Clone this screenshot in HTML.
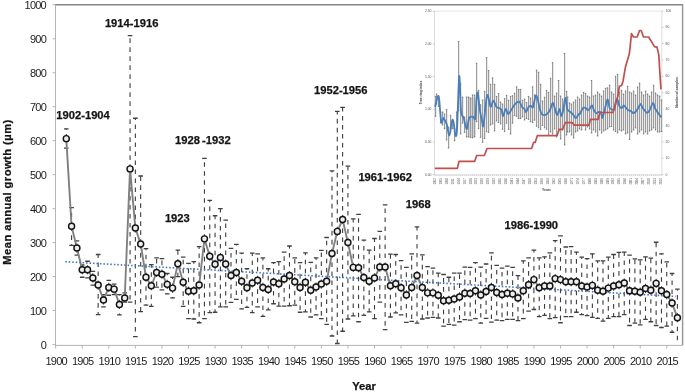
<!DOCTYPE html>
<html><head><meta charset="utf-8"><style>
html,body{margin:0;padding:0;background:#fff;width:685px;height:392px;overflow:hidden}
svg{display:block;will-change:transform}
text{font-family:"Liberation Sans",sans-serif;fill:#1e1e1e}
.tk{font-size:11px;letter-spacing:-0.75px;fill:#1c1c1c}
.an{font-size:11.2px;font-weight:bold;fill:#141414;stroke:#141414;stroke-width:0.25px}
.it{font-size:3.4px;fill:#555}
.iy{font-size:2.9px;fill:#555}
.ib{font-size:3.3px;font-weight:bold;fill:#444}
</style></head><body>
<svg width="685" height="392" viewBox="0 0 685 392">
<rect width="685" height="392" fill="#fff"/>
<line x1="55" y1="4.8" x2="682.6" y2="4.8" stroke="#858585" stroke-width="1.5"/>
<line x1="682.6" y1="4.1" x2="682.6" y2="345.4" stroke="#9a9a9a" stroke-width="1.5"/>
<line x1="55.5" y1="4.8" x2="55.5" y2="345.9" stroke="#b5b5b5" stroke-width="1"/>
<line x1="55" y1="345.4" x2="682" y2="345.4" stroke="#b5b5b5" stroke-width="1"/>
<line x1="52.6" y1="344.5" x2="55.5" y2="344.5" stroke="#b5b5b5" stroke-width="1"/>
<line x1="52.6" y1="310.53" x2="55.5" y2="310.53" stroke="#b5b5b5" stroke-width="1"/>
<line x1="52.6" y1="276.56" x2="55.5" y2="276.56" stroke="#b5b5b5" stroke-width="1"/>
<line x1="52.6" y1="242.59" x2="55.5" y2="242.59" stroke="#b5b5b5" stroke-width="1"/>
<line x1="52.6" y1="208.62" x2="55.5" y2="208.62" stroke="#b5b5b5" stroke-width="1"/>
<line x1="52.6" y1="174.65" x2="55.5" y2="174.65" stroke="#b5b5b5" stroke-width="1"/>
<line x1="52.6" y1="140.68" x2="55.5" y2="140.68" stroke="#b5b5b5" stroke-width="1"/>
<line x1="52.6" y1="106.71" x2="55.5" y2="106.71" stroke="#b5b5b5" stroke-width="1"/>
<line x1="52.6" y1="72.74" x2="55.5" y2="72.74" stroke="#b5b5b5" stroke-width="1"/>
<line x1="52.6" y1="38.77" x2="55.5" y2="38.77" stroke="#b5b5b5" stroke-width="1"/>
<line x1="52.6" y1="4.8" x2="55.5" y2="4.8" stroke="#b5b5b5" stroke-width="1"/>
<line x1="55.65" y1="345.4" x2="55.65" y2="348.6" stroke="#b5b5b5" stroke-width="1"/>
<line x1="82.22" y1="345.4" x2="82.22" y2="348.6" stroke="#b5b5b5" stroke-width="1"/>
<line x1="108.79" y1="345.4" x2="108.79" y2="348.6" stroke="#b5b5b5" stroke-width="1"/>
<line x1="135.36" y1="345.4" x2="135.36" y2="348.6" stroke="#b5b5b5" stroke-width="1"/>
<line x1="161.93" y1="345.4" x2="161.93" y2="348.6" stroke="#b5b5b5" stroke-width="1"/>
<line x1="188.5" y1="345.4" x2="188.5" y2="348.6" stroke="#b5b5b5" stroke-width="1"/>
<line x1="215.07" y1="345.4" x2="215.07" y2="348.6" stroke="#b5b5b5" stroke-width="1"/>
<line x1="241.64" y1="345.4" x2="241.64" y2="348.6" stroke="#b5b5b5" stroke-width="1"/>
<line x1="268.21" y1="345.4" x2="268.21" y2="348.6" stroke="#b5b5b5" stroke-width="1"/>
<line x1="294.78" y1="345.4" x2="294.78" y2="348.6" stroke="#b5b5b5" stroke-width="1"/>
<line x1="321.35" y1="345.4" x2="321.35" y2="348.6" stroke="#b5b5b5" stroke-width="1"/>
<line x1="347.92" y1="345.4" x2="347.92" y2="348.6" stroke="#b5b5b5" stroke-width="1"/>
<line x1="374.49" y1="345.4" x2="374.49" y2="348.6" stroke="#b5b5b5" stroke-width="1"/>
<line x1="401.06" y1="345.4" x2="401.06" y2="348.6" stroke="#b5b5b5" stroke-width="1"/>
<line x1="427.63" y1="345.4" x2="427.63" y2="348.6" stroke="#b5b5b5" stroke-width="1"/>
<line x1="454.2" y1="345.4" x2="454.2" y2="348.6" stroke="#b5b5b5" stroke-width="1"/>
<line x1="480.77" y1="345.4" x2="480.77" y2="348.6" stroke="#b5b5b5" stroke-width="1"/>
<line x1="507.34" y1="345.4" x2="507.34" y2="348.6" stroke="#b5b5b5" stroke-width="1"/>
<line x1="533.91" y1="345.4" x2="533.91" y2="348.6" stroke="#b5b5b5" stroke-width="1"/>
<line x1="560.48" y1="345.4" x2="560.48" y2="348.6" stroke="#b5b5b5" stroke-width="1"/>
<line x1="587.05" y1="345.4" x2="587.05" y2="348.6" stroke="#b5b5b5" stroke-width="1"/>
<line x1="613.62" y1="345.4" x2="613.62" y2="348.6" stroke="#b5b5b5" stroke-width="1"/>
<line x1="640.19" y1="345.4" x2="640.19" y2="348.6" stroke="#b5b5b5" stroke-width="1"/>
<line x1="666.76" y1="345.4" x2="666.76" y2="348.6" stroke="#b5b5b5" stroke-width="1"/>
<g stroke="#3c3c3c" stroke-width="1.1" stroke-dasharray="4.6 4.4" fill="none"><path d="M66.28 138.64V128.79M66.28 138.64V148.15"/><path d="M71.59 226.28V207.6M71.59 226.28V245.31"/><path d="M76.91 248.03V240.89M76.91 248.03V255.16"/><path d="M82.22 269.77V265.01M82.22 269.77V277.24"/><path d="M87.53 269.77V261.27M87.53 269.77V277.92"/><path d="M92.85 277.92V271.46M92.85 277.92V285.05"/><path d="M98.16 285.05V254.48M98.16 285.05V314.61"/><path d="M103.48 300V294.56M103.48 300V306.79"/><path d="M108.79 287.43V280.3M108.79 287.43V295.24"/><path d="M114.1 289.13V284.03M114.1 289.13V294.56"/><path d="M119.42 304.42V294.56M119.42 304.42V314.95"/><path d="M124.73 297.96V292.87M124.73 297.96V302.04"/><path d="M130.05 168.88V35.71M130.05 168.88V302.04"/><path d="M135.36 227.98V118.26M135.36 227.98V336.69"/><path d="M140.67 243.95V176.01M140.67 243.95V311.55"/><path d="M145.99 277.24V248.7M145.99 277.24V305.09"/><path d="M151.3 285.73V264.67M151.3 285.73V306.45"/><path d="M156.62 272.48V257.88M156.62 272.48V287.09"/><path d="M161.93 274.18V258.56M161.93 274.18V289.81"/><path d="M167.24 284.37V273.5M167.24 284.37V293.88"/><path d="M172.56 288.11V277.24M172.56 288.11V297.96"/><path d="M177.87 263.65V250.06M177.87 263.65V276.56"/><path d="M183.19 282.33V257.2M183.19 282.33V306.45"/><path d="M188.5 291.17V263.31M188.5 291.17V318.68"/><path d="M193.81 290.83V261.61M193.81 290.83V319.02"/><path d="M199.13 285.05V246.67M199.13 285.05V322.76"/><path d="M204.44 238.85V158.34M204.44 238.85V318.68"/><path d="M209.76 256.18V200.47M209.76 256.18V312.57"/><path d="M215.07 264.33V215.75M215.07 264.33V312.23"/><path d="M220.38 257.54V208.62M220.38 257.54V306.79"/><path d="M225.7 263.99V220.17M225.7 263.99V306.79"/><path d="M231.01 275.54V248.36M231.01 275.54V302.38"/><path d="M236.33 272.48V244.29M236.33 272.48V299.32"/><path d="M241.64 281.32V253.12M241.64 281.32V308.83"/><path d="M246.95 287.77V268.75M246.95 287.77V307.47"/><path d="M252.27 283.01V253.12M252.27 283.01V312.57"/><path d="M257.58 280.3V253.8M257.58 280.3V306.79"/><path d="M262.9 287.43V257.88M262.9 287.43V316.3"/><path d="M268.21 289.47V268.75M268.21 289.47V309.85"/><path d="M273.52 282V262.63M273.52 282V303.74"/><path d="M278.84 283.69V261.61M278.84 283.69V306.11"/><path d="M284.15 278.94V252.1M284.15 278.94V306.11"/><path d="M289.47 275.54V245.99M289.47 275.54V305.77"/><path d="M294.78 281.66V257.88M294.78 281.66V305.09"/><path d="M300.09 287.43V262.63M300.09 287.43V312.23"/><path d="M305.41 282.33V252.78M305.41 282.33V311.89"/><path d="M310.72 290.15V262.29M310.72 290.15V316.98"/><path d="M316.04 287.09V257.88M316.04 287.09V314.95"/><path d="M321.35 284.03V250.4M321.35 284.03V318.68"/><path d="M326.66 281.32V237.49M326.66 281.32V324.46"/><path d="M331.98 253.46V170.91M331.98 253.46V336.01"/><path d="M337.29 231.38V111.47M337.29 231.38V343.48"/><path d="M342.61 219.49V107.39M342.61 219.49V331.25"/><path d="M347.92 242.59V166.16M347.92 242.59V319.02"/><path d="M353.23 267.39V218.81M353.23 267.39V315.97"/><path d="M358.55 267.73V214.39M358.55 267.73V321.74"/><path d="M363.86 277.58V240.21M363.86 277.58V315.29"/><path d="M369.18 281.32V250.06M369.18 281.32V311.89"/><path d="M374.49 277.92V238.51M374.49 277.92V318.68"/><path d="M379.8 267.05V231.38M379.8 267.05V302.04"/><path d="M385.12 267.05V204.88M385.12 267.05V329.55"/><path d="M390.43 285.73V254.14M390.43 285.73V316.98"/><path d="M395.75 283.69V254.48M395.75 283.69V312.91"/><path d="M401.06 287.77V260.59M401.06 287.77V314.95"/><path d="M406.37 294.9V267.39M406.37 294.9V322.42"/><path d="M411.69 287.43V253.8M411.69 287.43V321.4"/><path d="M417 275.54V226.96M417 275.54V323.1"/><path d="M422.32 287.43V254.82M422.32 287.43V319.02"/><path d="M427.63 292.87V266.71M427.63 292.87V318"/><path d="M432.94 292.87V268.07M432.94 292.87V317.32"/><path d="M438.26 295.24V273.16M438.26 295.24V318"/><path d="M443.57 300.68V274.52M443.57 300.68V326.16"/><path d="M448.89 300.34V277.24M448.89 300.34V324.46"/><path d="M454.2 298.98V273.16M454.2 298.98V325.14"/><path d="M459.51 296.94V273.16M459.51 296.94V321.74"/><path d="M464.83 293.21V267.05M464.83 293.21V319.7"/><path d="M470.14 293.55V267.39M470.14 293.55V320.04"/><path d="M475.46 290.83V262.63M475.46 290.83V318.68"/><path d="M480.77 294.9V267.05M480.77 294.9V323.1"/><path d="M486.08 291.51V263.99M486.08 291.51V318.34"/><path d="M491.4 287.43V252.78M491.4 287.43V322.08"/><path d="M496.71 292.53V265.35M496.71 292.53V320.04"/><path d="M502.03 294.56V268.07M502.03 294.56V320.72"/><path d="M507.34 293.21V266.03M507.34 293.21V319.36"/><path d="M512.65 293.88V267.39M512.65 293.88V319.36"/><path d="M517.97 297.96V275.54M517.97 297.96V320.72"/><path d="M523.28 290.83V260.93M523.28 290.83V318.68"/><path d="M528.6 284.71V257.88M528.6 284.71V311.21"/><path d="M533.91 279.62V250.06M533.91 279.62V309.51"/><path d="M539.22 287.77V257.88M539.22 287.77V316.64"/><path d="M544.54 286.07V256.86M544.54 286.07V315.29"/><path d="M549.85 286.07V252.78M549.85 286.07V318.68"/><path d="M555.17 278.6V240.55M555.17 278.6V317.66"/><path d="M560.48 279.62V235.8M560.48 279.62V322.76"/><path d="M565.79 281.66V247.01M565.79 281.66V316.64"/><path d="M571.11 281.66V246.67M571.11 281.66V316.64"/><path d="M576.42 281.66V252.1M576.42 281.66V312.23"/><path d="M581.74 286.07V257.2M581.74 286.07V314.61"/><path d="M587.05 287.09V258.56M587.05 287.09V315.63"/><path d="M592.36 285.39V253.8M592.36 285.39V317.32"/><path d="M597.68 290.15V260.93M597.68 290.15V318.34"/><path d="M602.99 291.17V260.93M602.99 291.17V321.06"/><path d="M608.31 288.11V257.2M608.31 288.11V318.34"/><path d="M613.62 286.07V254.48M613.62 286.07V316.64"/><path d="M618.93 284.71V252.44M618.93 284.71V316.64"/><path d="M624.25 283.01V252.1M624.25 283.01V314.61"/><path d="M629.56 290.83V255.16M629.56 290.83V325.48"/><path d="M634.88 291.17V258.9M634.88 291.17V323.1"/><path d="M640.19 292.19V259.91M640.19 292.19V324.8"/><path d="M645.5 288.45V256.86M645.5 288.45V319.36"/><path d="M650.82 290.15V258.22M650.82 290.15V321.74"/><path d="M656.13 283.35V242.25M656.13 283.35V325.48"/><path d="M661.45 290.83V253.8M661.45 290.83V327.51"/><path d="M666.76 294.56V261.95M666.76 294.56V326.16"/><path d="M672.07 303.06V273.5M672.07 303.06V332.27"/><path d="M677.39 317.66V289.13M677.39 317.66V344.5"/></g>
<path d="M63.98 128.79h4.6M63.98 148.15h4.6M69.29 207.6h4.6M69.29 245.31h4.6M74.61 240.89h4.6M74.61 255.16h4.6M79.92 265.01h4.6M79.92 277.24h4.6M85.23 261.27h4.6M85.23 277.92h4.6M90.55 271.46h4.6M90.55 285.05h4.6M95.86 254.48h4.6M95.86 314.61h4.6M101.18 294.56h4.6M101.18 306.79h4.6M106.49 280.3h4.6M106.49 295.24h4.6M111.8 284.03h4.6M111.8 294.56h4.6M117.12 294.56h4.6M117.12 314.95h4.6M122.43 292.87h4.6M122.43 302.04h4.6M127.75 35.71h4.6M127.75 302.04h4.6M133.06 118.26h4.6M133.06 336.69h4.6M138.37 176.01h4.6M138.37 311.55h4.6M143.69 248.7h4.6M143.69 305.09h4.6M149 264.67h4.6M149 306.45h4.6M154.32 257.88h4.6M154.32 287.09h4.6M159.63 258.56h4.6M159.63 289.81h4.6M164.94 273.5h4.6M164.94 293.88h4.6M170.26 277.24h4.6M170.26 297.96h4.6M175.57 250.06h4.6M175.57 276.56h4.6M180.89 257.2h4.6M180.89 306.45h4.6M186.2 263.31h4.6M186.2 318.68h4.6M191.51 261.61h4.6M191.51 319.02h4.6M196.83 246.67h4.6M196.83 322.76h4.6M202.14 158.34h4.6M202.14 318.68h4.6M207.46 200.47h4.6M207.46 312.57h4.6M212.77 215.75h4.6M212.77 312.23h4.6M218.08 208.62h4.6M218.08 306.79h4.6M223.4 220.17h4.6M223.4 306.79h4.6M228.71 248.36h4.6M228.71 302.38h4.6M234.03 244.29h4.6M234.03 299.32h4.6M239.34 253.12h4.6M239.34 308.83h4.6M244.65 268.75h4.6M244.65 307.47h4.6M249.97 253.12h4.6M249.97 312.57h4.6M255.28 253.8h4.6M255.28 306.79h4.6M260.6 257.88h4.6M260.6 316.3h4.6M265.91 268.75h4.6M265.91 309.85h4.6M271.22 262.63h4.6M271.22 303.74h4.6M276.54 261.61h4.6M276.54 306.11h4.6M281.85 252.1h4.6M281.85 306.11h4.6M287.17 245.99h4.6M287.17 305.77h4.6M292.48 257.88h4.6M292.48 305.09h4.6M297.79 262.63h4.6M297.79 312.23h4.6M303.11 252.78h4.6M303.11 311.89h4.6M308.42 262.29h4.6M308.42 316.98h4.6M313.74 257.88h4.6M313.74 314.95h4.6M319.05 250.4h4.6M319.05 318.68h4.6M324.36 237.49h4.6M324.36 324.46h4.6M329.68 170.91h4.6M329.68 336.01h4.6M334.99 111.47h4.6M334.99 343.48h4.6M340.31 107.39h4.6M340.31 331.25h4.6M345.62 166.16h4.6M345.62 319.02h4.6M350.93 218.81h4.6M350.93 315.97h4.6M356.25 214.39h4.6M356.25 321.74h4.6M361.56 240.21h4.6M361.56 315.29h4.6M366.88 250.06h4.6M366.88 311.89h4.6M372.19 238.51h4.6M372.19 318.68h4.6M377.5 231.38h4.6M377.5 302.04h4.6M382.82 204.88h4.6M382.82 329.55h4.6M388.13 254.14h4.6M388.13 316.98h4.6M393.45 254.48h4.6M393.45 312.91h4.6M398.76 260.59h4.6M398.76 314.95h4.6M404.07 267.39h4.6M404.07 322.42h4.6M409.39 253.8h4.6M409.39 321.4h4.6M414.7 226.96h4.6M414.7 323.1h4.6M420.02 254.82h4.6M420.02 319.02h4.6M425.33 266.71h4.6M425.33 318h4.6M430.64 268.07h4.6M430.64 317.32h4.6M435.96 273.16h4.6M435.96 318h4.6M441.27 274.52h4.6M441.27 326.16h4.6M446.59 277.24h4.6M446.59 324.46h4.6M451.9 273.16h4.6M451.9 325.14h4.6M457.21 273.16h4.6M457.21 321.74h4.6M462.53 267.05h4.6M462.53 319.7h4.6M467.84 267.39h4.6M467.84 320.04h4.6M473.16 262.63h4.6M473.16 318.68h4.6M478.47 267.05h4.6M478.47 323.1h4.6M483.78 263.99h4.6M483.78 318.34h4.6M489.1 252.78h4.6M489.1 322.08h4.6M494.41 265.35h4.6M494.41 320.04h4.6M499.73 268.07h4.6M499.73 320.72h4.6M505.04 266.03h4.6M505.04 319.36h4.6M510.35 267.39h4.6M510.35 319.36h4.6M515.67 275.54h4.6M515.67 320.72h4.6M520.98 260.93h4.6M520.98 318.68h4.6M526.3 257.88h4.6M526.3 311.21h4.6M531.61 250.06h4.6M531.61 309.51h4.6M536.92 257.88h4.6M536.92 316.64h4.6M542.24 256.86h4.6M542.24 315.29h4.6M547.55 252.78h4.6M547.55 318.68h4.6M552.87 240.55h4.6M552.87 317.66h4.6M558.18 235.8h4.6M558.18 322.76h4.6M563.49 247.01h4.6M563.49 316.64h4.6M568.81 246.67h4.6M568.81 316.64h4.6M574.12 252.1h4.6M574.12 312.23h4.6M579.44 257.2h4.6M579.44 314.61h4.6M584.75 258.56h4.6M584.75 315.63h4.6M590.06 253.8h4.6M590.06 317.32h4.6M595.38 260.93h4.6M595.38 318.34h4.6M600.69 260.93h4.6M600.69 321.06h4.6M606.01 257.2h4.6M606.01 318.34h4.6M611.32 254.48h4.6M611.32 316.64h4.6M616.63 252.44h4.6M616.63 316.64h4.6M621.95 252.1h4.6M621.95 314.61h4.6M627.26 255.16h4.6M627.26 325.48h4.6M632.58 258.9h4.6M632.58 323.1h4.6M637.89 259.91h4.6M637.89 324.8h4.6M643.2 256.86h4.6M643.2 319.36h4.6M648.52 258.22h4.6M648.52 321.74h4.6M653.83 242.25h4.6M653.83 325.48h4.6M659.15 253.8h4.6M659.15 327.51h4.6M664.46 261.95h4.6M664.46 326.16h4.6M669.77 273.5h4.6M669.77 332.27h4.6M675.09 289.13h4.6" stroke="#404040" stroke-width="1.3" fill="none"/>
<line x1="65.3" y1="261.7" x2="675.5" y2="296.4" stroke="#4472c4" stroke-width="1.6" stroke-dasharray="1.5 1.97"/>
<polyline points="66.28,138.64 71.59,226.28 76.91,248.03 82.22,269.77 87.53,269.77 92.85,277.92 98.16,285.05 103.48,300 108.79,287.43 114.1,289.13 119.42,304.42 124.73,297.96 130.05,168.88 135.36,227.98 140.67,243.95 145.99,277.24 151.3,285.73 156.62,272.48 161.93,274.18 167.24,284.37 172.56,288.11 177.87,263.65 183.19,282.33 188.5,291.17 193.81,290.83 199.13,285.05 204.44,238.85 209.76,256.18 215.07,264.33 220.38,257.54 225.7,263.99 231.01,275.54 236.33,272.48 241.64,281.32 246.95,287.77 252.27,283.01 257.58,280.3 262.9,287.43 268.21,289.47 273.52,282 278.84,283.69 284.15,278.94 289.47,275.54 294.78,281.66 300.09,287.43 305.41,282.33 310.72,290.15 316.04,287.09 321.35,284.03 326.66,281.32 331.98,253.46 337.29,231.38 342.61,219.49 347.92,242.59 353.23,267.39 358.55,267.73 363.86,277.58 369.18,281.32 374.49,277.92 379.8,267.05 385.12,267.05 390.43,285.73 395.75,283.69 401.06,287.77 406.37,294.9 411.69,287.43 417,275.54 422.32,287.43 427.63,292.87 432.94,292.87 438.26,295.24 443.57,300.68 448.89,300.34 454.2,298.98 459.51,296.94 464.83,293.21 470.14,293.55 475.46,290.83 480.77,294.9 486.08,291.51 491.4,287.43 496.71,292.53 502.03,294.56 507.34,293.21 512.65,293.88 517.97,297.96 523.28,290.83 528.6,284.71 533.91,279.62 539.22,287.77 544.54,286.07 549.85,286.07 555.17,278.6 560.48,279.62 565.79,281.66 571.11,281.66 576.42,281.66 581.74,286.07 587.05,287.09 592.36,285.39 597.68,290.15 602.99,291.17 608.31,288.11 613.62,286.07 618.93,284.71 624.25,283.01 629.56,290.83 634.88,291.17 640.19,292.19 645.5,288.45 650.82,290.15 656.13,283.35 661.45,290.83 666.76,294.56 672.07,303.06 677.39,317.66" fill="none" stroke="#808080" stroke-width="1.9" stroke-linejoin="round"/>
<circle cx="66.28" cy="138.64" r="3.0" fill="#eeeeee" stroke="#141414" stroke-width="1.45"/>
<circle cx="71.59" cy="226.28" r="3.0" fill="#eeeeee" stroke="#141414" stroke-width="1.45"/>
<circle cx="76.91" cy="248.03" r="3.0" fill="#eeeeee" stroke="#141414" stroke-width="1.45"/>
<circle cx="82.22" cy="269.77" r="3.0" fill="#eeeeee" stroke="#141414" stroke-width="1.45"/>
<circle cx="87.53" cy="269.77" r="3.0" fill="#eeeeee" stroke="#141414" stroke-width="1.45"/>
<circle cx="92.85" cy="277.92" r="3.0" fill="#eeeeee" stroke="#141414" stroke-width="1.45"/>
<circle cx="98.16" cy="285.05" r="3.0" fill="#eeeeee" stroke="#141414" stroke-width="1.45"/>
<circle cx="103.48" cy="300" r="3.0" fill="#eeeeee" stroke="#141414" stroke-width="1.45"/>
<circle cx="108.79" cy="287.43" r="3.0" fill="#eeeeee" stroke="#141414" stroke-width="1.45"/>
<circle cx="114.1" cy="289.13" r="3.0" fill="#eeeeee" stroke="#141414" stroke-width="1.45"/>
<circle cx="119.42" cy="304.42" r="3.0" fill="#eeeeee" stroke="#141414" stroke-width="1.45"/>
<circle cx="124.73" cy="297.96" r="3.0" fill="#eeeeee" stroke="#141414" stroke-width="1.45"/>
<circle cx="130.05" cy="168.88" r="3.0" fill="#eeeeee" stroke="#141414" stroke-width="1.45"/>
<circle cx="135.36" cy="227.98" r="3.0" fill="#eeeeee" stroke="#141414" stroke-width="1.45"/>
<circle cx="140.67" cy="243.95" r="3.0" fill="#eeeeee" stroke="#141414" stroke-width="1.45"/>
<circle cx="145.99" cy="277.24" r="3.0" fill="#eeeeee" stroke="#141414" stroke-width="1.45"/>
<circle cx="151.3" cy="285.73" r="3.0" fill="#eeeeee" stroke="#141414" stroke-width="1.45"/>
<circle cx="156.62" cy="272.48" r="3.0" fill="#eeeeee" stroke="#141414" stroke-width="1.45"/>
<circle cx="161.93" cy="274.18" r="3.0" fill="#eeeeee" stroke="#141414" stroke-width="1.45"/>
<circle cx="167.24" cy="284.37" r="3.0" fill="#eeeeee" stroke="#141414" stroke-width="1.45"/>
<circle cx="172.56" cy="288.11" r="3.0" fill="#eeeeee" stroke="#141414" stroke-width="1.45"/>
<circle cx="177.87" cy="263.65" r="3.0" fill="#eeeeee" stroke="#141414" stroke-width="1.45"/>
<circle cx="183.19" cy="282.33" r="3.0" fill="#eeeeee" stroke="#141414" stroke-width="1.45"/>
<circle cx="188.5" cy="291.17" r="3.0" fill="#eeeeee" stroke="#141414" stroke-width="1.45"/>
<circle cx="193.81" cy="290.83" r="3.0" fill="#eeeeee" stroke="#141414" stroke-width="1.45"/>
<circle cx="199.13" cy="285.05" r="3.0" fill="#eeeeee" stroke="#141414" stroke-width="1.45"/>
<circle cx="204.44" cy="238.85" r="3.0" fill="#eeeeee" stroke="#141414" stroke-width="1.45"/>
<circle cx="209.76" cy="256.18" r="3.0" fill="#eeeeee" stroke="#141414" stroke-width="1.45"/>
<circle cx="215.07" cy="264.33" r="3.0" fill="#eeeeee" stroke="#141414" stroke-width="1.45"/>
<circle cx="220.38" cy="257.54" r="3.0" fill="#eeeeee" stroke="#141414" stroke-width="1.45"/>
<circle cx="225.7" cy="263.99" r="3.0" fill="#eeeeee" stroke="#141414" stroke-width="1.45"/>
<circle cx="231.01" cy="275.54" r="3.0" fill="#eeeeee" stroke="#141414" stroke-width="1.45"/>
<circle cx="236.33" cy="272.48" r="3.0" fill="#eeeeee" stroke="#141414" stroke-width="1.45"/>
<circle cx="241.64" cy="281.32" r="3.0" fill="#eeeeee" stroke="#141414" stroke-width="1.45"/>
<circle cx="246.95" cy="287.77" r="3.0" fill="#eeeeee" stroke="#141414" stroke-width="1.45"/>
<circle cx="252.27" cy="283.01" r="3.0" fill="#eeeeee" stroke="#141414" stroke-width="1.45"/>
<circle cx="257.58" cy="280.3" r="3.0" fill="#eeeeee" stroke="#141414" stroke-width="1.45"/>
<circle cx="262.9" cy="287.43" r="3.0" fill="#eeeeee" stroke="#141414" stroke-width="1.45"/>
<circle cx="268.21" cy="289.47" r="3.0" fill="#eeeeee" stroke="#141414" stroke-width="1.45"/>
<circle cx="273.52" cy="282" r="3.0" fill="#eeeeee" stroke="#141414" stroke-width="1.45"/>
<circle cx="278.84" cy="283.69" r="3.0" fill="#eeeeee" stroke="#141414" stroke-width="1.45"/>
<circle cx="284.15" cy="278.94" r="3.0" fill="#eeeeee" stroke="#141414" stroke-width="1.45"/>
<circle cx="289.47" cy="275.54" r="3.0" fill="#eeeeee" stroke="#141414" stroke-width="1.45"/>
<circle cx="294.78" cy="281.66" r="3.0" fill="#eeeeee" stroke="#141414" stroke-width="1.45"/>
<circle cx="300.09" cy="287.43" r="3.0" fill="#eeeeee" stroke="#141414" stroke-width="1.45"/>
<circle cx="305.41" cy="282.33" r="3.0" fill="#eeeeee" stroke="#141414" stroke-width="1.45"/>
<circle cx="310.72" cy="290.15" r="3.0" fill="#eeeeee" stroke="#141414" stroke-width="1.45"/>
<circle cx="316.04" cy="287.09" r="3.0" fill="#eeeeee" stroke="#141414" stroke-width="1.45"/>
<circle cx="321.35" cy="284.03" r="3.0" fill="#eeeeee" stroke="#141414" stroke-width="1.45"/>
<circle cx="326.66" cy="281.32" r="3.0" fill="#eeeeee" stroke="#141414" stroke-width="1.45"/>
<circle cx="331.98" cy="253.46" r="3.0" fill="#eeeeee" stroke="#141414" stroke-width="1.45"/>
<circle cx="337.29" cy="231.38" r="3.0" fill="#eeeeee" stroke="#141414" stroke-width="1.45"/>
<circle cx="342.61" cy="219.49" r="3.0" fill="#eeeeee" stroke="#141414" stroke-width="1.45"/>
<circle cx="347.92" cy="242.59" r="3.0" fill="#eeeeee" stroke="#141414" stroke-width="1.45"/>
<circle cx="353.23" cy="267.39" r="3.0" fill="#eeeeee" stroke="#141414" stroke-width="1.45"/>
<circle cx="358.55" cy="267.73" r="3.0" fill="#eeeeee" stroke="#141414" stroke-width="1.45"/>
<circle cx="363.86" cy="277.58" r="3.0" fill="#eeeeee" stroke="#141414" stroke-width="1.45"/>
<circle cx="369.18" cy="281.32" r="3.0" fill="#eeeeee" stroke="#141414" stroke-width="1.45"/>
<circle cx="374.49" cy="277.92" r="3.0" fill="#eeeeee" stroke="#141414" stroke-width="1.45"/>
<circle cx="379.8" cy="267.05" r="3.0" fill="#eeeeee" stroke="#141414" stroke-width="1.45"/>
<circle cx="385.12" cy="267.05" r="3.0" fill="#eeeeee" stroke="#141414" stroke-width="1.45"/>
<circle cx="390.43" cy="285.73" r="3.0" fill="#eeeeee" stroke="#141414" stroke-width="1.45"/>
<circle cx="395.75" cy="283.69" r="3.0" fill="#eeeeee" stroke="#141414" stroke-width="1.45"/>
<circle cx="401.06" cy="287.77" r="3.0" fill="#eeeeee" stroke="#141414" stroke-width="1.45"/>
<circle cx="406.37" cy="294.9" r="3.0" fill="#eeeeee" stroke="#141414" stroke-width="1.45"/>
<circle cx="411.69" cy="287.43" r="3.0" fill="#eeeeee" stroke="#141414" stroke-width="1.45"/>
<circle cx="417" cy="275.54" r="3.0" fill="#eeeeee" stroke="#141414" stroke-width="1.45"/>
<circle cx="422.32" cy="287.43" r="3.0" fill="#eeeeee" stroke="#141414" stroke-width="1.45"/>
<circle cx="427.63" cy="292.87" r="3.0" fill="#eeeeee" stroke="#141414" stroke-width="1.45"/>
<circle cx="432.94" cy="292.87" r="3.0" fill="#eeeeee" stroke="#141414" stroke-width="1.45"/>
<circle cx="438.26" cy="295.24" r="3.0" fill="#eeeeee" stroke="#141414" stroke-width="1.45"/>
<circle cx="443.57" cy="300.68" r="3.0" fill="#eeeeee" stroke="#141414" stroke-width="1.45"/>
<circle cx="448.89" cy="300.34" r="3.0" fill="#eeeeee" stroke="#141414" stroke-width="1.45"/>
<circle cx="454.2" cy="298.98" r="3.0" fill="#eeeeee" stroke="#141414" stroke-width="1.45"/>
<circle cx="459.51" cy="296.94" r="3.0" fill="#eeeeee" stroke="#141414" stroke-width="1.45"/>
<circle cx="464.83" cy="293.21" r="3.0" fill="#eeeeee" stroke="#141414" stroke-width="1.45"/>
<circle cx="470.14" cy="293.55" r="3.0" fill="#eeeeee" stroke="#141414" stroke-width="1.45"/>
<circle cx="475.46" cy="290.83" r="3.0" fill="#eeeeee" stroke="#141414" stroke-width="1.45"/>
<circle cx="480.77" cy="294.9" r="3.0" fill="#eeeeee" stroke="#141414" stroke-width="1.45"/>
<circle cx="486.08" cy="291.51" r="3.0" fill="#eeeeee" stroke="#141414" stroke-width="1.45"/>
<circle cx="491.4" cy="287.43" r="3.0" fill="#eeeeee" stroke="#141414" stroke-width="1.45"/>
<circle cx="496.71" cy="292.53" r="3.0" fill="#eeeeee" stroke="#141414" stroke-width="1.45"/>
<circle cx="502.03" cy="294.56" r="3.0" fill="#eeeeee" stroke="#141414" stroke-width="1.45"/>
<circle cx="507.34" cy="293.21" r="3.0" fill="#eeeeee" stroke="#141414" stroke-width="1.45"/>
<circle cx="512.65" cy="293.88" r="3.0" fill="#eeeeee" stroke="#141414" stroke-width="1.45"/>
<circle cx="517.97" cy="297.96" r="3.0" fill="#eeeeee" stroke="#141414" stroke-width="1.45"/>
<circle cx="523.28" cy="290.83" r="3.0" fill="#eeeeee" stroke="#141414" stroke-width="1.45"/>
<circle cx="528.6" cy="284.71" r="3.0" fill="#eeeeee" stroke="#141414" stroke-width="1.45"/>
<circle cx="533.91" cy="279.62" r="3.0" fill="#eeeeee" stroke="#141414" stroke-width="1.45"/>
<circle cx="539.22" cy="287.77" r="3.0" fill="#eeeeee" stroke="#141414" stroke-width="1.45"/>
<circle cx="544.54" cy="286.07" r="3.0" fill="#eeeeee" stroke="#141414" stroke-width="1.45"/>
<circle cx="549.85" cy="286.07" r="3.0" fill="#eeeeee" stroke="#141414" stroke-width="1.45"/>
<circle cx="555.17" cy="278.6" r="3.0" fill="#eeeeee" stroke="#141414" stroke-width="1.45"/>
<circle cx="560.48" cy="279.62" r="3.0" fill="#eeeeee" stroke="#141414" stroke-width="1.45"/>
<circle cx="565.79" cy="281.66" r="3.0" fill="#eeeeee" stroke="#141414" stroke-width="1.45"/>
<circle cx="571.11" cy="281.66" r="3.0" fill="#eeeeee" stroke="#141414" stroke-width="1.45"/>
<circle cx="576.42" cy="281.66" r="3.0" fill="#eeeeee" stroke="#141414" stroke-width="1.45"/>
<circle cx="581.74" cy="286.07" r="3.0" fill="#eeeeee" stroke="#141414" stroke-width="1.45"/>
<circle cx="587.05" cy="287.09" r="3.0" fill="#eeeeee" stroke="#141414" stroke-width="1.45"/>
<circle cx="592.36" cy="285.39" r="3.0" fill="#eeeeee" stroke="#141414" stroke-width="1.45"/>
<circle cx="597.68" cy="290.15" r="3.0" fill="#eeeeee" stroke="#141414" stroke-width="1.45"/>
<circle cx="602.99" cy="291.17" r="3.0" fill="#eeeeee" stroke="#141414" stroke-width="1.45"/>
<circle cx="608.31" cy="288.11" r="3.0" fill="#eeeeee" stroke="#141414" stroke-width="1.45"/>
<circle cx="613.62" cy="286.07" r="3.0" fill="#eeeeee" stroke="#141414" stroke-width="1.45"/>
<circle cx="618.93" cy="284.71" r="3.0" fill="#eeeeee" stroke="#141414" stroke-width="1.45"/>
<circle cx="624.25" cy="283.01" r="3.0" fill="#eeeeee" stroke="#141414" stroke-width="1.45"/>
<circle cx="629.56" cy="290.83" r="3.0" fill="#eeeeee" stroke="#141414" stroke-width="1.45"/>
<circle cx="634.88" cy="291.17" r="3.0" fill="#eeeeee" stroke="#141414" stroke-width="1.45"/>
<circle cx="640.19" cy="292.19" r="3.0" fill="#eeeeee" stroke="#141414" stroke-width="1.45"/>
<circle cx="645.5" cy="288.45" r="3.0" fill="#eeeeee" stroke="#141414" stroke-width="1.45"/>
<circle cx="650.82" cy="290.15" r="3.0" fill="#eeeeee" stroke="#141414" stroke-width="1.45"/>
<circle cx="656.13" cy="283.35" r="3.0" fill="#eeeeee" stroke="#141414" stroke-width="1.45"/>
<circle cx="661.45" cy="290.83" r="3.0" fill="#eeeeee" stroke="#141414" stroke-width="1.45"/>
<circle cx="666.76" cy="294.56" r="3.0" fill="#eeeeee" stroke="#141414" stroke-width="1.45"/>
<circle cx="672.07" cy="303.06" r="3.0" fill="#eeeeee" stroke="#141414" stroke-width="1.45"/>
<circle cx="677.39" cy="317.66" r="3.0" fill="#eeeeee" stroke="#141414" stroke-width="1.45"/>
<text x="46" y="348.5" text-anchor="end" class="tk">0</text>
<text x="46" y="314.53" text-anchor="end" class="tk">100</text>
<text x="46" y="280.56" text-anchor="end" class="tk">200</text>
<text x="46" y="246.59" text-anchor="end" class="tk">300</text>
<text x="46" y="212.62" text-anchor="end" class="tk">400</text>
<text x="46" y="178.65" text-anchor="end" class="tk">500</text>
<text x="46" y="144.68" text-anchor="end" class="tk">600</text>
<text x="46" y="110.71" text-anchor="end" class="tk">700</text>
<text x="46" y="76.74" text-anchor="end" class="tk">800</text>
<text x="46" y="42.77" text-anchor="end" class="tk">900</text>
<text x="46" y="8.8" text-anchor="end" class="tk">1000</text>
<text x="56.15" y="365.1" text-anchor="middle" class="tk">1900</text>
<text x="82.72" y="365.1" text-anchor="middle" class="tk">1905</text>
<text x="109.29" y="365.1" text-anchor="middle" class="tk">1910</text>
<text x="135.86" y="365.1" text-anchor="middle" class="tk">1915</text>
<text x="162.43" y="365.1" text-anchor="middle" class="tk">1920</text>
<text x="189" y="365.1" text-anchor="middle" class="tk">1925</text>
<text x="215.57" y="365.1" text-anchor="middle" class="tk">1930</text>
<text x="242.14" y="365.1" text-anchor="middle" class="tk">1935</text>
<text x="268.71" y="365.1" text-anchor="middle" class="tk">1940</text>
<text x="295.28" y="365.1" text-anchor="middle" class="tk">1945</text>
<text x="321.85" y="365.1" text-anchor="middle" class="tk">1950</text>
<text x="348.42" y="365.1" text-anchor="middle" class="tk">1955</text>
<text x="374.99" y="365.1" text-anchor="middle" class="tk">1960</text>
<text x="401.56" y="365.1" text-anchor="middle" class="tk">1965</text>
<text x="428.13" y="365.1" text-anchor="middle" class="tk">1970</text>
<text x="454.7" y="365.1" text-anchor="middle" class="tk">1975</text>
<text x="481.27" y="365.1" text-anchor="middle" class="tk">1980</text>
<text x="507.84" y="365.1" text-anchor="middle" class="tk">1985</text>
<text x="534.41" y="365.1" text-anchor="middle" class="tk">1990</text>
<text x="560.98" y="365.1" text-anchor="middle" class="tk">1995</text>
<text x="587.55" y="365.1" text-anchor="middle" class="tk">2000</text>
<text x="614.12" y="365.1" text-anchor="middle" class="tk">2005</text>
<text x="640.69" y="365.1" text-anchor="middle" class="tk">2010</text>
<text x="667.26" y="365.1" text-anchor="middle" class="tk">2015</text>
<text x="56.3" y="119.2" class="an">1902-1904</text>
<text x="104.9" y="26.6" class="an">1914-1916</text>
<text x="175" y="143.7" class="an">1928<tspan dx="2.1">-1932</tspan></text>
<text x="164.9" y="221.8" class="an">1923</text>
<text x="314" y="93.7" class="an">1952-1956</text>
<text x="358.4" y="181.4" class="an">1961-1962</text>
<text x="405.8" y="207.5" class="an">1968</text>
<text x="504.6" y="228.9" class="an">1986-1990</text>
<text x="364" y="390.4" text-anchor="middle" class="an">Year</text>
<text transform="translate(10.8,192) rotate(-90)" text-anchor="middle" class="an" style="letter-spacing:0.45px">Mean annual growth (µm)</text>
<rect x="412" y="6" width="269" height="192" fill="#fff"/>
<line x1="434.5" y1="11.1" x2="661.8" y2="11.1" stroke="#d0d0d0" stroke-width="0.6"/>
<line x1="434.5" y1="11.1" x2="434.5" y2="174.8" stroke="#c8c8c8" stroke-width="0.6"/>
<line x1="661.8" y1="11.1" x2="661.8" y2="174.8" stroke="#c8c8c8" stroke-width="0.6"/>
<line x1="434.5" y1="174.8" x2="661.8" y2="174.8" stroke="#c8c8c8" stroke-width="0.6"/>
<text x="431.5" y="175.6" text-anchor="end" class="it">0.00</text>
<text x="431.5" y="142.96" text-anchor="end" class="it">0.50</text>
<text x="431.5" y="110.32" text-anchor="end" class="it">1.00</text>
<text x="431.5" y="77.68" text-anchor="end" class="it">1.50</text>
<text x="431.5" y="45.04" text-anchor="end" class="it">2.00</text>
<text x="431.5" y="12.4" text-anchor="end" class="it">2.50</text>
<text x="665.6" y="175.6" class="it">0</text>
<text x="665.6" y="159.25" class="it">10</text>
<text x="665.6" y="142.9" class="it">20</text>
<text x="665.6" y="126.54" class="it">30</text>
<text x="665.6" y="110.19" class="it">40</text>
<text x="665.6" y="93.84" class="it">50</text>
<text x="665.6" y="77.49" class="it">60</text>
<text x="665.6" y="61.14" class="it">70</text>
<text x="665.6" y="44.78" class="it">80</text>
<text x="665.6" y="28.43" class="it">90</text>
<text x="665.6" y="12.08" class="it">100</text>
<path d="M432.8 174.5h1.7M432.8 141.86h1.7M432.8 109.22h1.7M432.8 76.58h1.7M432.8 43.94h1.7M432.8 11.3h1.7M661.8 174.5h1.6M661.8 158.15h1.6M661.8 141.8h1.6M661.8 125.44h1.6M661.8 109.09h1.6M661.8 92.74h1.6M661.8 76.39h1.6M661.8 60.04h1.6M661.8 43.68h1.6M661.8 27.33h1.6M661.8 10.98h1.6" stroke="#999" stroke-width="0.5"/>
<path d="M435 174.8v1.2M436.99 174.8v1.2M438.97 174.8v1.2M440.95 174.8v1.2M442.94 174.8v1.2M444.93 174.8v1.2M446.91 174.8v1.2M448.89 174.8v1.2M450.88 174.8v1.2M452.87 174.8v1.2M454.85 174.8v1.2M456.83 174.8v1.2M458.82 174.8v1.2M460.81 174.8v1.2M462.79 174.8v1.2M464.77 174.8v1.2M466.76 174.8v1.2M468.75 174.8v1.2M470.73 174.8v1.2M472.72 174.8v1.2M474.7 174.8v1.2M476.69 174.8v1.2M478.67 174.8v1.2M480.65 174.8v1.2M482.64 174.8v1.2M484.62 174.8v1.2M486.61 174.8v1.2M488.6 174.8v1.2M490.58 174.8v1.2M492.56 174.8v1.2M494.55 174.8v1.2M496.54 174.8v1.2M498.52 174.8v1.2M500.5 174.8v1.2M502.49 174.8v1.2M504.48 174.8v1.2M506.46 174.8v1.2M508.44 174.8v1.2M510.43 174.8v1.2M512.41 174.8v1.2M514.4 174.8v1.2M516.38 174.8v1.2M518.37 174.8v1.2M520.36 174.8v1.2M522.34 174.8v1.2M524.33 174.8v1.2M526.31 174.8v1.2M528.29 174.8v1.2M530.28 174.8v1.2M532.26 174.8v1.2M534.25 174.8v1.2M536.24 174.8v1.2M538.22 174.8v1.2M540.21 174.8v1.2M542.19 174.8v1.2M544.17 174.8v1.2M546.16 174.8v1.2M548.14 174.8v1.2M550.13 174.8v1.2M552.12 174.8v1.2M554.1 174.8v1.2M556.09 174.8v1.2M558.07 174.8v1.2M560.06 174.8v1.2M562.04 174.8v1.2M564.02 174.8v1.2M566.01 174.8v1.2M568 174.8v1.2M569.98 174.8v1.2M571.97 174.8v1.2M573.95 174.8v1.2M575.93 174.8v1.2M577.92 174.8v1.2M579.9 174.8v1.2M581.89 174.8v1.2M583.88 174.8v1.2M585.86 174.8v1.2M587.85 174.8v1.2M589.83 174.8v1.2M591.82 174.8v1.2M593.8 174.8v1.2M595.78 174.8v1.2M597.77 174.8v1.2M599.75 174.8v1.2M601.74 174.8v1.2M603.73 174.8v1.2M605.71 174.8v1.2M607.7 174.8v1.2M609.68 174.8v1.2M611.66 174.8v1.2M613.65 174.8v1.2M615.63 174.8v1.2M617.62 174.8v1.2M619.61 174.8v1.2M621.59 174.8v1.2M623.58 174.8v1.2M625.56 174.8v1.2M627.55 174.8v1.2M629.53 174.8v1.2M631.51 174.8v1.2M633.5 174.8v1.2M635.49 174.8v1.2M637.47 174.8v1.2M639.46 174.8v1.2M641.44 174.8v1.2M643.42 174.8v1.2M645.41 174.8v1.2M647.39 174.8v1.2M649.38 174.8v1.2M651.37 174.8v1.2M653.35 174.8v1.2M655.34 174.8v1.2M657.32 174.8v1.2M659.31 174.8v1.2M661.29 174.8v1.2" stroke="#aaa" stroke-width="0.5"/>
<text transform="translate(435.8,184.6) rotate(-90)" class="iy">1902</text>
<text transform="translate(441.75,184.6) rotate(-90)" class="iy">1905</text>
<text transform="translate(447.71,184.6) rotate(-90)" class="iy">1908</text>
<text transform="translate(453.67,184.6) rotate(-90)" class="iy">1911</text>
<text transform="translate(459.62,184.6) rotate(-90)" class="iy">1914</text>
<text transform="translate(465.57,184.6) rotate(-90)" class="iy">1917</text>
<text transform="translate(471.53,184.6) rotate(-90)" class="iy">1920</text>
<text transform="translate(477.49,184.6) rotate(-90)" class="iy">1923</text>
<text transform="translate(483.44,184.6) rotate(-90)" class="iy">1926</text>
<text transform="translate(489.4,184.6) rotate(-90)" class="iy">1929</text>
<text transform="translate(495.35,184.6) rotate(-90)" class="iy">1932</text>
<text transform="translate(501.31,184.6) rotate(-90)" class="iy">1935</text>
<text transform="translate(507.26,184.6) rotate(-90)" class="iy">1938</text>
<text transform="translate(513.21,184.6) rotate(-90)" class="iy">1941</text>
<text transform="translate(519.17,184.6) rotate(-90)" class="iy">1944</text>
<text transform="translate(525.12,184.6) rotate(-90)" class="iy">1947</text>
<text transform="translate(531.08,184.6) rotate(-90)" class="iy">1950</text>
<text transform="translate(537.03,184.6) rotate(-90)" class="iy">1953</text>
<text transform="translate(542.99,184.6) rotate(-90)" class="iy">1956</text>
<text transform="translate(548.94,184.6) rotate(-90)" class="iy">1959</text>
<text transform="translate(554.9,184.6) rotate(-90)" class="iy">1962</text>
<text transform="translate(560.86,184.6) rotate(-90)" class="iy">1965</text>
<text transform="translate(566.81,184.6) rotate(-90)" class="iy">1968</text>
<text transform="translate(572.76,184.6) rotate(-90)" class="iy">1971</text>
<text transform="translate(578.72,184.6) rotate(-90)" class="iy">1974</text>
<text transform="translate(584.67,184.6) rotate(-90)" class="iy">1977</text>
<text transform="translate(590.63,184.6) rotate(-90)" class="iy">1980</text>
<text transform="translate(596.58,184.6) rotate(-90)" class="iy">1983</text>
<text transform="translate(602.54,184.6) rotate(-90)" class="iy">1986</text>
<text transform="translate(608.5,184.6) rotate(-90)" class="iy">1989</text>
<text transform="translate(614.45,184.6) rotate(-90)" class="iy">1992</text>
<text transform="translate(620.4,184.6) rotate(-90)" class="iy">1995</text>
<text transform="translate(626.36,184.6) rotate(-90)" class="iy">1998</text>
<text transform="translate(632.31,184.6) rotate(-90)" class="iy">2001</text>
<text transform="translate(638.27,184.6) rotate(-90)" class="iy">2004</text>
<text transform="translate(644.22,184.6) rotate(-90)" class="iy">2007</text>
<text transform="translate(650.18,184.6) rotate(-90)" class="iy">2010</text>
<text transform="translate(656.13,184.6) rotate(-90)" class="iy">2013</text>
<text transform="translate(662.09,184.6) rotate(-90)" class="iy">2016</text>
<text x="546.5" y="191.4" text-anchor="middle" class="ib">Years</text>
<text transform="translate(421.5,92.5) rotate(-90)" text-anchor="middle" class="ib">Tree ring index</text>
<text transform="translate(677.5,92.5) rotate(-90)" text-anchor="middle" class="ib">Number of samples</text>
<path transform="translate(1,0)" d="M435.5 96.4V116.3M436.5 94V104M438.5 97.2V106.4M440.5 112V123M442.5 112V125M444.5 114V128.6M446.5 109.4V140M448.5 127V148M450.5 115.3V128.6M452.5 119.9V128.6M454.5 128.6V140.8M456.5 112V130M458.5 41.4V111M460.5 83.2V134M462.5 97.2V123.2M464.5 117V132.4M466.5 97V137M468.5 97V137M470.5 98V137.5M472.5 95V137.8M474.5 95V137M476.5 63.3V121.7M478.5 90.4V128.6M480.5 104.8V137.3M482.5 100V142.4M484.5 91.4V138.5M486.5 57.5V131.6M488.5 70.5V132.4M490.5 84.3V125M492.5 77.9V124M494.5 84.3V131M496.5 96.4V121M498.5 93.5V122.5M500.5 102V124M502.5 104V129.3M504.5 98.7V131.6M506.5 95.4V123.2M508.5 100.3V129.3M510.5 96.4V134M512.5 95.7V123.2M514.5 93.2V115.6M516.5 86.8V116.3M518.5 89.4V118.6M520.5 89.4V118.6M522.5 100.3V117M524.5 99V120M526.5 102.5V118.6M528.5 96.4V119.4M530.5 98V121.7M532.5 86.8V122.5M534.5 94.9V120.2M536.5 70.2V126.3M538.5 72.2V127.8M540.5 84.3V129.3M542.5 101V125.5M544.5 97.2V127.8M546.5 90.4V129.3M548.5 92.4V135.5M550.5 78.2V132M552.5 62.6V134M554.5 96V129M556.5 93V137M558.5 80.5V132M560.5 96V139M562.5 99V130M564.5 53.4V145M566.5 91.4V135M567.5 97V132M569.5 103V132M571.5 104V135M573.5 102V138M575.5 100V132M577.5 97V131M579.5 99V129M581.5 95V130M583.5 92.4V126M585.5 93.5V130M587.5 96V127M589.5 97V129M591.5 80.5V133M593.5 96V130M595.5 95V132M597.5 92V136M599.5 94V130M601.5 96V133M603.5 91V131M605.5 88.3V130M607.5 87.8V128.8M609.5 85.2V127M611.5 92V126.5M613.5 94V130M615.5 76.3V131.5M617.5 74.5V133M619.5 92V130M621.5 90.4V131M623.5 94V130M625.5 91V134M627.5 86.3V133M629.5 92V139.5M631.5 93V132M633.5 91V130M635.5 95V128M637.5 87V134M639.5 83.2V132M641.5 92V130M643.5 95V134M645.5 91V132M647.5 94V134M649.5 96V131M651.5 92V130M653.5 85.2V128M655.5 93V130M657.5 95V132M659.5 96V132M661.5 100V131.5" stroke="#e9e9e9" stroke-width="1"/>
<rect x="467.8" y="97.5" width="7.8" height="39.5" fill="#d2d2d2"/>
<rect x="517.5" y="89.5" width="3" height="29" fill="#d6d6d6"/>
<path d="M435.5 96.4V116.3M436.5 94V104M438.5 97.2V106.4M440.5 112V123M442.5 112V125M444.5 114V128.6M446.5 109.4V140M448.5 127V148M450.5 115.3V128.6M452.5 119.9V128.6M454.5 128.6V140.8M456.5 112V130M458.5 41.4V111M460.5 83.2V134M462.5 97.2V123.2M464.5 117V132.4M466.5 97V137M468.5 97V137M470.5 98V137.5M472.5 95V137.8M474.5 95V137M476.5 63.3V121.7M478.5 90.4V128.6M480.5 104.8V137.3M482.5 100V142.4M484.5 91.4V138.5M486.5 57.5V131.6M488.5 70.5V132.4M490.5 84.3V125M492.5 77.9V124M494.5 84.3V131M496.5 96.4V121M498.5 93.5V122.5M500.5 102V124M502.5 104V129.3M504.5 98.7V131.6M506.5 95.4V123.2M508.5 100.3V129.3M510.5 96.4V134M512.5 95.7V123.2M514.5 93.2V115.6M516.5 86.8V116.3M518.5 89.4V118.6M520.5 89.4V118.6M522.5 100.3V117M524.5 99V120M526.5 102.5V118.6M528.5 96.4V119.4M530.5 98V121.7M532.5 86.8V122.5M534.5 94.9V120.2M536.5 70.2V126.3M538.5 72.2V127.8M540.5 84.3V129.3M542.5 101V125.5M544.5 97.2V127.8M546.5 90.4V129.3M548.5 92.4V135.5M550.5 78.2V132M552.5 62.6V134M554.5 96V129M556.5 93V137M558.5 80.5V132M560.5 96V139M562.5 99V130M564.5 53.4V145M566.5 91.4V135M567.5 97V132M569.5 103V132M571.5 104V135M573.5 102V138M575.5 100V132M577.5 97V131M579.5 99V129M581.5 95V130M583.5 92.4V126M585.5 93.5V130M587.5 96V127M589.5 97V129M591.5 80.5V133M593.5 96V130M595.5 95V132M597.5 92V136M599.5 94V130M601.5 96V133M603.5 91V131M605.5 88.3V130M607.5 87.8V128.8M609.5 85.2V127M611.5 92V126.5M613.5 94V130M615.5 76.3V131.5M617.5 74.5V133M619.5 92V130M621.5 90.4V131M623.5 94V130M625.5 91V134M627.5 86.3V133M629.5 92V139.5M631.5 93V132M633.5 91V130M635.5 95V128M637.5 87V134M639.5 83.2V132M641.5 92V130M643.5 95V134M645.5 91V132M647.5 94V134M649.5 96V131M651.5 92V130M653.5 85.2V128M655.5 93V130M657.5 95V132M659.5 96V132M661.5 100V131.5" stroke="#9c9c9c" stroke-width="1"/>
<path d="M434.8 96.4h1.4M434.8 116.3h1.4M435.8 94h1.4M435.8 104h1.4M437.8 97.2h1.4M437.8 106.4h1.4M439.8 112h1.4M439.8 123h1.4M441.8 112h1.4M441.8 125h1.4M443.8 114h1.4M443.8 128.6h1.4M445.8 109.4h1.4M445.8 140h1.4M447.8 127h1.4M447.8 148h1.4M449.8 115.3h1.4M449.8 128.6h1.4M451.8 119.9h1.4M451.8 128.6h1.4M453.8 128.6h1.4M453.8 140.8h1.4M455.8 112h1.4M455.8 130h1.4M457.8 41.4h1.4M457.8 111h1.4M459.8 83.2h1.4M459.8 134h1.4M461.8 97.2h1.4M461.8 123.2h1.4M463.8 117h1.4M463.8 132.4h1.4M465.8 97h1.4M465.8 137h1.4M467.8 97h1.4M467.8 137h1.4M469.8 98h1.4M469.8 137.5h1.4M471.8 95h1.4M471.8 137.8h1.4M473.8 95h1.4M473.8 137h1.4M475.8 63.3h1.4M475.8 121.7h1.4M477.8 90.4h1.4M477.8 128.6h1.4M479.8 104.8h1.4M479.8 137.3h1.4M481.8 100h1.4M481.8 142.4h1.4M483.8 91.4h1.4M483.8 138.5h1.4M485.8 57.5h1.4M485.8 131.6h1.4M487.8 70.5h1.4M487.8 132.4h1.4M489.8 84.3h1.4M489.8 125h1.4M491.8 77.9h1.4M491.8 124h1.4M493.8 84.3h1.4M493.8 131h1.4M495.8 96.4h1.4M495.8 121h1.4M497.8 93.5h1.4M497.8 122.5h1.4M499.8 102h1.4M499.8 124h1.4M501.8 104h1.4M501.8 129.3h1.4M503.8 98.7h1.4M503.8 131.6h1.4M505.8 95.4h1.4M505.8 123.2h1.4M507.8 100.3h1.4M507.8 129.3h1.4M509.8 96.4h1.4M509.8 134h1.4M511.8 95.7h1.4M511.8 123.2h1.4M513.8 93.2h1.4M513.8 115.6h1.4M515.8 86.8h1.4M515.8 116.3h1.4M517.8 89.4h1.4M517.8 118.6h1.4M519.8 89.4h1.4M519.8 118.6h1.4M521.8 100.3h1.4M521.8 117h1.4M523.8 99h1.4M523.8 120h1.4M525.8 102.5h1.4M525.8 118.6h1.4M527.8 96.4h1.4M527.8 119.4h1.4M529.8 98h1.4M529.8 121.7h1.4M531.8 86.8h1.4M531.8 122.5h1.4M533.8 94.9h1.4M533.8 120.2h1.4M535.8 70.2h1.4M535.8 126.3h1.4M537.8 72.2h1.4M537.8 127.8h1.4M539.8 84.3h1.4M539.8 129.3h1.4M541.8 101h1.4M541.8 125.5h1.4M543.8 97.2h1.4M543.8 127.8h1.4M545.8 90.4h1.4M545.8 129.3h1.4M547.8 92.4h1.4M547.8 135.5h1.4M549.8 78.2h1.4M549.8 132h1.4M551.8 62.6h1.4M551.8 134h1.4M553.8 96h1.4M553.8 129h1.4M555.8 93h1.4M555.8 137h1.4M557.8 80.5h1.4M557.8 132h1.4M559.8 96h1.4M559.8 139h1.4M561.8 99h1.4M561.8 130h1.4M563.8 53.4h1.4M563.8 145h1.4M565.8 91.4h1.4M565.8 135h1.4M566.8 97h1.4M566.8 132h1.4M568.8 103h1.4M568.8 132h1.4M570.8 104h1.4M570.8 135h1.4M572.8 102h1.4M572.8 138h1.4M574.8 100h1.4M574.8 132h1.4M576.8 97h1.4M576.8 131h1.4M578.8 99h1.4M578.8 129h1.4M580.8 95h1.4M580.8 130h1.4M582.8 92.4h1.4M582.8 126h1.4M584.8 93.5h1.4M584.8 130h1.4M586.8 96h1.4M586.8 127h1.4M588.8 97h1.4M588.8 129h1.4M590.8 80.5h1.4M590.8 133h1.4M592.8 96h1.4M592.8 130h1.4M594.8 95h1.4M594.8 132h1.4M596.8 92h1.4M596.8 136h1.4M598.8 94h1.4M598.8 130h1.4M600.8 96h1.4M600.8 133h1.4M602.8 91h1.4M602.8 131h1.4M604.8 88.3h1.4M604.8 130h1.4M606.8 87.8h1.4M606.8 128.8h1.4M608.8 85.2h1.4M608.8 127h1.4M610.8 92h1.4M610.8 126.5h1.4M612.8 94h1.4M612.8 130h1.4M614.8 76.3h1.4M614.8 131.5h1.4M616.8 74.5h1.4M616.8 133h1.4M618.8 92h1.4M618.8 130h1.4M620.8 90.4h1.4M620.8 131h1.4M622.8 94h1.4M622.8 130h1.4M624.8 91h1.4M624.8 134h1.4M626.8 86.3h1.4M626.8 133h1.4M628.8 92h1.4M628.8 139.5h1.4M630.8 93h1.4M630.8 132h1.4M632.8 91h1.4M632.8 130h1.4M634.8 95h1.4M634.8 128h1.4M636.8 87h1.4M636.8 134h1.4M638.8 83.2h1.4M638.8 132h1.4M640.8 92h1.4M640.8 130h1.4M642.8 95h1.4M642.8 134h1.4M644.8 91h1.4M644.8 132h1.4M646.8 94h1.4M646.8 134h1.4M648.8 96h1.4M648.8 131h1.4M650.8 92h1.4M650.8 130h1.4M652.8 85.2h1.4M652.8 128h1.4M654.8 93h1.4M654.8 130h1.4M656.8 95h1.4M656.8 132h1.4M658.8 96h1.4M658.8 132h1.4M660.8 100h1.4M660.8 131.5h1.4" stroke="#555" stroke-width="0.7"/>
<path d="M435.1 106.7C435.55 105 437.12 97.68 437.8 96.5C438.48 95.32 438.63 95.35 439.2 99.6C439.77 103.85 440.52 118.93 441.2 122C441.88 125.07 442.72 118.33 443.3 118C443.88 117.67 444.13 118.98 444.7 120C445.27 121.02 445.92 121.55 446.7 124.1C447.48 126.65 448.52 135.82 449.4 135.3C450.28 134.78 451.32 123.22 452 121C452.68 118.78 452.92 119.62 453.5 122C454.08 124.38 454.9 134.27 455.5 135.3C456.1 136.33 456.48 138.07 457.1 128.2C457.72 118.33 458.55 79 459.2 76.1C459.85 73.2 460.25 103.82 461 110.8C461.75 117.78 462.75 114.93 463.7 118C464.65 121.07 465.78 129.2 466.7 129.2C467.62 129.2 468.1 120.05 469.2 118C470.3 115.95 472.28 116.9 473.3 116.9C474.32 116.9 474.63 122.08 475.3 118C475.97 113.92 476.52 93.6 477.3 92.4C478.08 91.2 479.22 106.03 480 110.8C480.78 115.57 481.42 118.62 482 121C482.58 123.38 482.65 129.35 483.5 125.1C484.35 120.85 485.92 98.57 487.1 95.5C488.28 92.43 489.57 105.85 490.6 106.7C491.63 107.55 492.35 100.6 493.3 100.6C494.25 100.6 495.45 105.5 496.3 106.7C497.15 107.9 497.55 107.28 498.4 107.8C499.25 108.32 500.62 108.42 501.4 109.8C502.18 111.18 502.38 116.23 503.1 116.1C503.82 115.97 504.85 109.33 505.7 109C506.55 108.67 507.28 113.93 508.2 114.1C509.12 114.27 510.02 111.7 511.2 110C512.38 108.3 513.93 105.27 515.3 103.9C516.67 102.53 518.28 101.3 519.4 101.8C520.52 102.3 521.15 105.7 522 106.9C522.85 108.1 523.82 108.15 524.5 109C525.18 109.85 525.42 112.35 526.1 112C526.78 111.65 527.78 107.92 528.6 106.9C529.42 105.88 530.25 105.9 531 105.9C531.75 105.9 532.32 108.6 533.1 106.9C533.88 105.2 534.92 96.88 535.7 95.7C536.48 94.52 537.12 97.58 537.8 99.8C538.48 102.02 539.13 106.62 539.8 109C540.47 111.38 541.12 113.08 541.8 114.1C542.48 115.12 543.05 115.1 543.9 115.1C544.75 115.1 545.88 114.95 546.9 114.1C547.92 113.25 549.03 111.87 550 110C550.97 108.13 551.92 103.23 552.7 102.9C553.48 102.57 553.97 105.97 554.7 108C555.43 110.03 556.28 114.93 557.1 115.1C557.92 115.27 558.92 108.83 559.6 109C560.28 109.17 560.58 115.93 561.2 116.1C561.82 116.27 562.62 113.05 563.3 110C563.98 106.95 564.63 97.97 565.3 97.8C565.97 97.63 566.45 106.63 567.3 109C568.15 111.37 569.37 110.98 570.4 112C571.43 113.02 572.58 114.07 573.5 115.1C574.42 116.13 575.05 118.37 575.9 118.2C576.75 118.03 577.92 114.84 578.6 114.1C579.28 113.36 579.32 114.7 580 113.75C580.68 112.8 581.8 109.38 582.7 108.4C583.6 107.43 584.52 107.6 585.4 107.9C586.28 108.2 587.27 110.12 588 110.2C588.73 110.28 589.12 109.2 589.8 108.4C590.48 107.6 591.42 105.1 592.1 105.4C592.78 105.7 593.23 108.9 593.9 110.2C594.57 111.5 595.29 112.9 596.1 113.2C596.91 113.5 597.92 112.05 598.75 112C599.58 111.95 600.51 111.92 601.1 112.9C601.69 113.88 601.8 118.05 602.3 117.9C602.8 117.75 603.5 114.18 604.1 112C604.7 109.82 605.3 106.88 605.9 104.8C606.5 102.72 607.1 99.05 607.7 99.5C608.3 99.95 608.77 105.82 609.5 107.5C610.23 109.18 611.3 109.3 612.1 109.6C612.9 109.9 613.7 110.55 614.3 109.3C614.9 108.05 615.17 103.73 615.7 102.1C616.23 100.47 616.85 98.75 617.5 99.5C618.15 100.25 618.85 105.2 619.6 106.6C620.35 108 621.31 108.1 622 107.9C622.69 107.7 623.07 105.4 623.75 105.4C624.43 105.4 625.36 107.1 626.1 107.9C626.84 108.7 627.4 109.67 628.2 110.2C629 110.73 630.07 110.6 630.9 111.1C631.73 111.6 632.45 113.05 633.2 113.2C633.95 113.35 634.6 112.8 635.4 112C636.2 111.2 637.12 109.75 638 108.4C638.88 107.05 639.95 103.98 640.7 103.9C641.45 103.82 641.85 106.85 642.5 107.9C643.15 108.95 643.85 109.37 644.6 110.2C645.35 111.03 646.17 112.9 647 112.9C647.83 112.9 648.62 111.85 649.6 110.2C650.58 108.55 652 103.3 652.9 103C653.8 102.7 654.05 106.61 655 108.4C655.95 110.19 657.56 112.27 658.6 113.75C659.64 115.23 660.81 116.71 661.25 117.3" fill="none" stroke="#4a7ebb" stroke-width="1.8" stroke-linejoin="round"/>
<polyline points="434.8,168.4 457.3,168.4 459.1,161.3 474.7,161.3 476.7,155.5 484.4,155.5 487,148.5 531.6,148.5 533.7,142.3 535.2,142.3 537.4,135.6 557.1,135.6 559.2,129.3 562.6,129.3 565.3,122.7 572,122.7 574.5,125.2 588.9,125.2 590.4,119.4 598,119.4 599.9,112.5 613,112.5 615.7,103.9 618.1,95 619.3,86.3 621.6,85.5 623.1,81 625.4,67.2 627.5,60 629.4,53.5 631.5,33.6 633.5,37 637.2,37 639.5,30.5 641.2,30.5 643.5,37 648.7,37 654.4,46.6 657,47.1 658.8,54.9 659.9,73.3 661,89.4" fill="none" stroke="#c0504d" stroke-width="1.7" stroke-linejoin="round"/>
</svg>
</body></html>
